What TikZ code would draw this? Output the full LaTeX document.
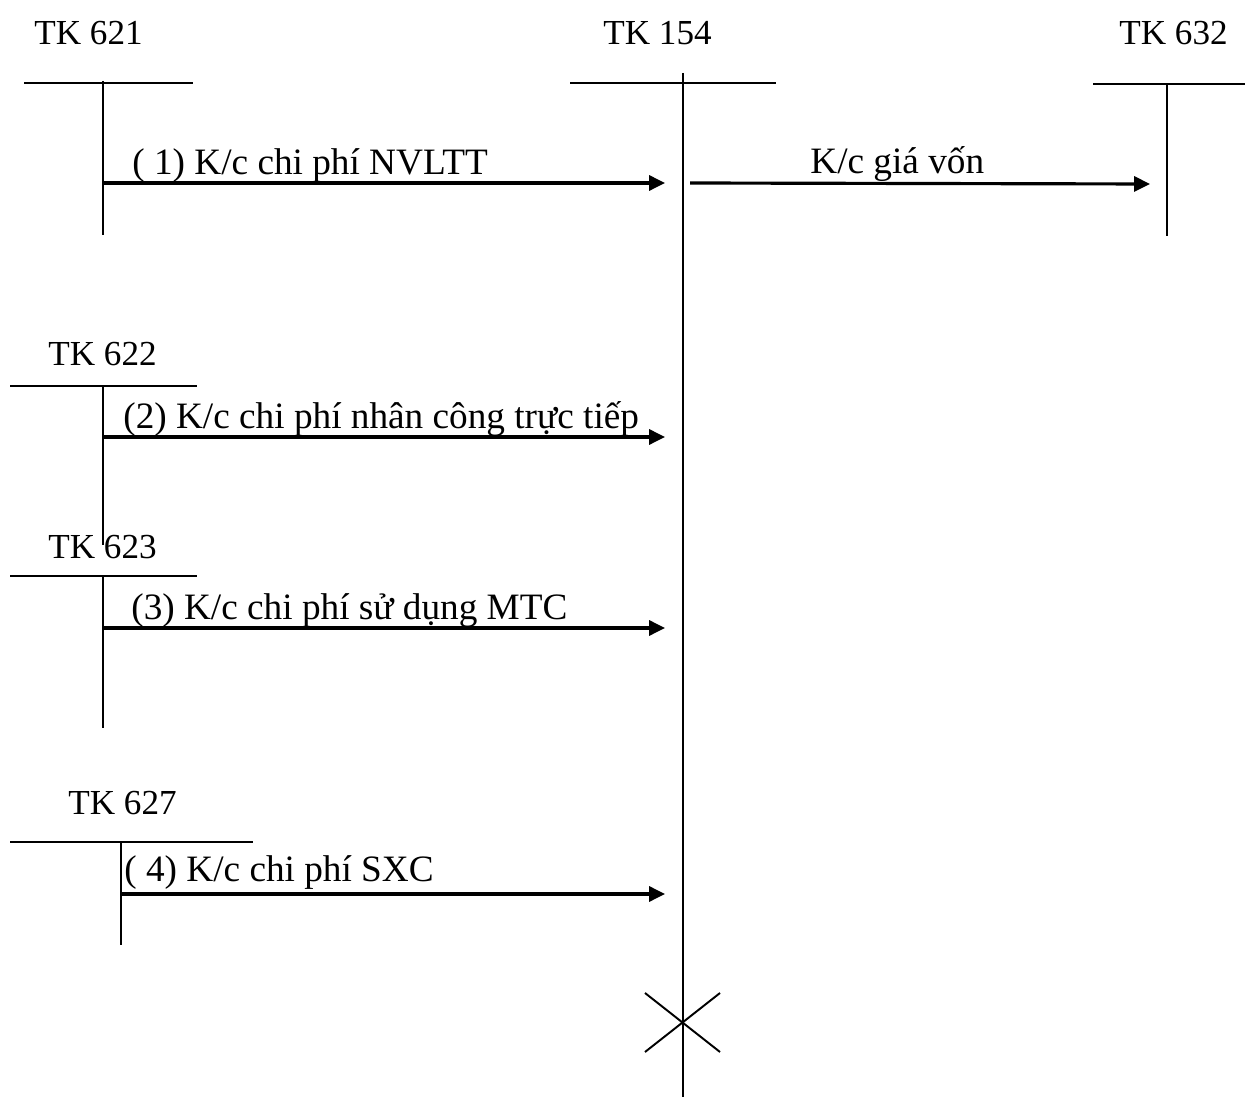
\documentclass[tikz,border=0pt]{standalone}
\usepackage{fontspec}
\setmainfont{Liberation Serif}
\usetikzlibrary{arrows.meta}
\tikzset{
  tline/.style={line width=1.1pt},
  flow/.style={line width=1.8pt,-{Triangle[length=9pt,width=8.5pt]}},
  acc/.style={anchor=base west,inner sep=0pt},
  lbl/.style={anchor=base west,inner sep=0pt,font=\fontsize{21.2}{25}\selectfont}
}

\begin{document}
\begin{tikzpicture}[x=0.02cm,y=-0.02cm,font=\fontsize{20}{24}\selectfont]
  \useasboundingbox (0,0) rectangle (1245,1097);
  % account titles
  \node[acc] (t621) at (34,45) {TK 621};
  \node[acc] (t154) at (603,45) {TK 154};
  \node[acc] (t632) at (1119,45) {TK 632};
  \node[acc] (t622) at (48,366) {TK 622};
  \node[acc] (t623) at (48,559) {TK 623};
  \node[acc] (t627) at (68,815) {TK 627};
  % T accounts
  \draw[tline] (24,83) -- (193,83) (103,81) -- (103,235);
  \draw[tline] (570,83) -- (776,83) (683,73) -- (683,1097);
  \draw[tline] (1093,84) -- (1245,84) (1167,84) -- (1167,236);
  \draw[tline] (10,386) -- (197,386) (103,386) -- (103,545);
  \draw[tline] (10,576) -- (197,576) (103,576) -- (103,728);
  \draw[tline] (10,842) -- (253,842) (121,842) -- (121,945);
  \draw[tline] (645,993) -- (720,1052) (645,1052) -- (720,993);
  % entries
  \coordinate (s1) at (103,183);  \coordinate (e1) at (665,183);
  \coordinate (s5) at (690,183);  \coordinate (e5) at (1150,184);
  \coordinate (s2) at (103,437);  \coordinate (e2) at (665,437);
  \coordinate (s3) at (103,628);  \coordinate (e3) at (665,628);
  \coordinate (s4) at (121,894);  \coordinate (e4) at (665,894);
  \draw[flow] (s1) -- (e1);
  \draw[flow] (s5) -- (e5);
  \draw[flow] (s2) -- (e2);
  \draw[flow] (s3) -- (e3);
  \draw[flow] (s4) -- (e4);
  \node[lbl] (l1) at (132,175) {( 1) K/c chi phí NVLTT};
  \node[lbl] (l5) at (810,174) {K/c giá vốn};
  \node[lbl] (l2) at (123,429) {(2) K/c chi phí nhân công trực tiếp};
  \node[lbl] (l3) at (131,620) {(3) K/c chi phí sử dụng MTC};
  \node[lbl] (l4) at (124,882) {( 4) K/c chi phí SXC};
\end{tikzpicture}
\end{document}
